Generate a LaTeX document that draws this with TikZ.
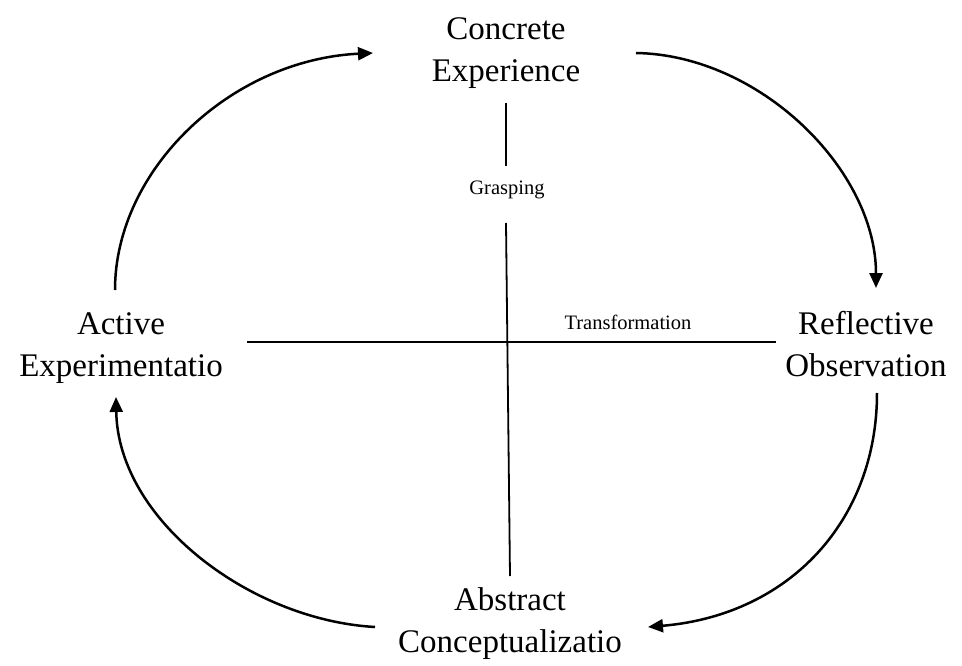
\documentclass[tikz,border=0pt]{standalone}
\usepackage{fontspec}
\setmainfont{Liberation Serif}
\usetikzlibrary{arrows.meta}
\begin{document}
\begin{tikzpicture}[x=1pt,y=-1pt,
  biglabel/.style={align=center,anchor=base,inner sep=0pt,font=\fontsize{33}{42}\selectfont},
  smalllabel/.style={inner sep=0pt,font=\fontsize{20.5}{24}\selectfont},
  cyclearrow/.style={line width=2.5pt,-{Triangle[length=15pt,width=13pt]}},
  axisline/.style={line width=1.8pt}]
\useasboundingbox (0,0) rectangle (962,666);
% base anchor = baseline of the last line
\node[biglabel] (CE) at (506,82) {Concrete\\Experience};
\node[biglabel] (RO) at (866,376) {Reflective\\Observation};
\node[biglabel] (AC) at (510,652) {Abstract\\Conceptualizatio};
\node[biglabel] (AE) at (121,376) {Active\\Experimentatio};
\node[smalllabel] (G) at (507,190) {Grasping};
\node[smalllabel] (T) at (628,322) {Transformation};
% cycle arrows
\draw[cyclearrow] ([shift={(-6,-86)}]AE.base) .. controls (115,170) and (230,60) .. ([shift={(-133,-29)}]CE.base);
\draw[cyclearrow] ([shift={(130,-29)}]CE.base) .. controls (760,55) and (876,170) .. ([shift={(10,-88)}]RO.base);
\draw[cyclearrow] ([shift={(11,17)}]RO.base) .. controls (877,520) and (790,615) .. ([shift={(138,-25)}]AC.base);
\draw[cyclearrow] ([shift={(-135,-25)}]AC.base) .. controls (250,620) and (118,520) .. ([shift={(-5,21)}]AE.base);
% axes
\draw[axisline] ([shift={(0,21)}]CE.base) -- ([shift={(-1,-24)}]G.center);
\draw[axisline] ([shift={(-1,33)}]G.center) -- ([shift={(0,-76)}]AC.base);
\draw[axisline] ([shift={(126,-34)}]AE.base) -- ([shift={(-90,-34)}]RO.base);
\end{tikzpicture}
\end{document}
